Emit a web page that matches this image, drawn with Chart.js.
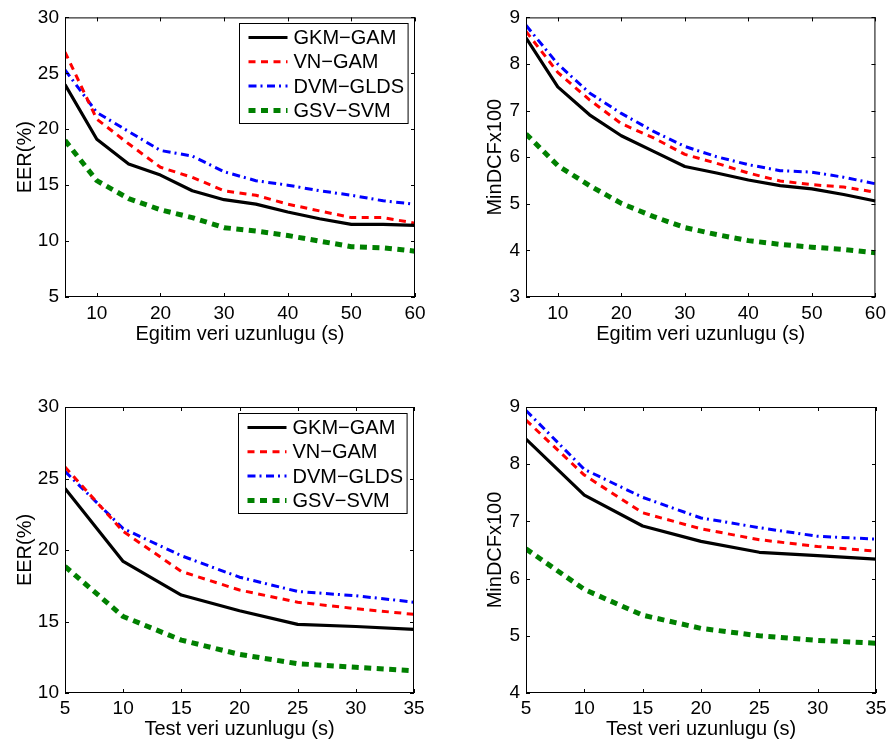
<!DOCTYPE html>
<html>
<head>
<meta charset="utf-8">
<script src="https://cdn.jsdelivr.net/npm/chart.js@4.4.0/dist/chart.umd.min.js"></script>
<style>
  body { margin: 0; background: #fff; }
  #fig { position: relative; width: 891px; height: 747px; }
  canvas { position: absolute; }
</style>
</head>
<body>
<div id="fig">
  <canvas id="c1" width="445" height="360" style="left:0;top:0"></canvas>
  <canvas id="c2" width="446" height="360" style="left:445px;top:0"></canvas>
  <canvas id="c3" width="445" height="387" style="left:0;top:360px"></canvas>
  <canvas id="c4" width="446" height="387" style="left:445px;top:360px"></canvas>
</div>
<script>
//---------------------Data-----------------------------
const methods = ["GKM−GAM", "VN−GAM", "DVM−GLDS", "GSV−SVM"];

const trainLen = [5, 10, 15, 20, 25, 30, 35, 40, 45, 50, 55, 60];
const testLen = [5, 10, 15, 20, 25, 30, 35];

// EER(%) vs training length
const eerTrainGKM = [24.0, 19.1, 16.9, 15.9, 14.5, 13.7, 13.3, 12.6, 12.0, 11.5, 11.5, 11.4];
const eerTrainVN  = [26.9, 20.9, 18.7, 16.6, 15.7, 14.5, 14.1, 13.3, 12.7, 12.1, 12.1, 11.6];
const eerTrainDVM = [25.3, 21.5, 19.8, 18.1, 17.6, 16.2, 15.4, 15.0, 14.5, 14.1, 13.6, 13.3];
const eerTrainGSV = [19.0, 15.4, 13.8, 12.8, 12.1, 11.2, 10.9, 10.5, 10.0, 9.5, 9.4, 9.1];

// MinDCFx100 vs training length
const dcfTrainGKM = [8.56, 7.51, 6.91, 6.46, 6.13, 5.80, 5.66, 5.51, 5.39, 5.32, 5.20, 5.06];
const dcfTrainVN  = [8.70, 7.82, 7.23, 6.72, 6.42, 6.06, 5.87, 5.66, 5.49, 5.41, 5.36, 5.25];
const dcfTrainDVM = [8.83, 8.00, 7.38, 6.94, 6.56, 6.23, 6.01, 5.84, 5.71, 5.68, 5.57, 5.43];
const dcfTrainGSV = [6.50, 5.82, 5.39, 5.01, 4.73, 4.49, 4.34, 4.21, 4.13, 4.07, 4.02, 3.95];

// EER(%) vs test length
const eerTestGKM = [24.3, 19.2, 16.85, 15.75, 14.8, 14.65, 14.45];
const eerTestVN  = [25.8, 21.3, 18.5, 17.2, 16.35, 15.9, 15.5];
const eerTestDVM = [25.5, 21.5, 19.6, 18.1, 17.1, 16.8, 16.35];
const eerTestGSV = [18.85, 15.35, 13.7, 12.7, 12.05, 11.8, 11.55];

// MinDCFx100 vs test length
const dcfTestGKM = [8.44, 7.46, 6.92, 6.65, 6.46, 6.40, 6.34];
const dcfTestVN  = [8.77, 7.81, 7.15, 6.87, 6.68, 6.56, 6.48];
const dcfTestDVM = [8.94, 7.91, 7.42, 7.06, 6.89, 6.74, 6.69];
const dcfTestGSV = [6.52, 5.81, 5.36, 5.13, 5.00, 4.92, 4.87];

// tick labels
const trainTicks = [10, 20, 30, 40, 50, 60];
const testTicks = [5, 10, 15, 20, 25, 30, 35];
const eerTrainTicks = [5, 10, 15, 20, 25, 30];
const eerTestTicks = [10, 15, 20, 25, 30];
const dcfTrainTicks = [3, 4, 5, 6, 7, 8, 9];
const dcfTestTicks = [4, 5, 6, 7, 8, 9];

//---------------------Styles-----------------------------
const FONT = '"Liberation Sans", Arial, Helvetica, sans-serif';
const lineStyles = [
  { color: "#000000", width: 3.2, dash: [] },
  { color: "#ff0000", width: 3, dash: [7, 5.5] },
  { color: "#0000ff", width: 3, dash: [8, 4, 2, 4.5] },
  { color: "#008000", width: 5, dash: [7, 5.5] },
];

// box around the axes, inward ticks, legend inside the axes
const matlabAxes = {
  id: "matlabAxes",
  afterDraw(chart, args, opts) {
    const { ctx, chartArea: a, scales } = chart;
    const x = scales.x, y = scales.y;
    ctx.save();
    ctx.strokeStyle = "#000";
    ctx.lineWidth = 1;
    ctx.setLineDash([]);
    ctx.beginPath();
    x.ticks.forEach((t) => {
      const px = Math.round(x.getPixelForValue(t.value)) + 0.5;
      ctx.moveTo(px, a.bottom); ctx.lineTo(px, a.bottom - 4);
      ctx.moveTo(px, a.top); ctx.lineTo(px, a.top + 4);
    });
    y.ticks.forEach((t) => {
      const py = Math.round(y.getPixelForValue(t.value)) + 0.5;
      ctx.moveTo(a.left, py); ctx.lineTo(a.left + 4, py);
      ctx.moveTo(a.right, py); ctx.lineTo(a.right - 4, py);
    });
    ctx.stroke();
    ctx.strokeRect(a.left + 0.5, a.top + 0.5, a.width - 1, a.height - 1);

    if (opts.legend) {
      const ds = chart.data.datasets;
      ctx.font = "20px " + FONT;
      const tw = Math.max(...ds.map((d) => ctx.measureText(d.label).width));
      const w = 9 + 39 + 6 + tw + 4;
      const h = 100;
      const bx = Math.round(a.right - 7 - w) + 0.5;
      const by = Math.round(a.top + 6) + 0.5;
      ctx.fillStyle = "#fff";
      ctx.fillRect(bx, by, w, h);
      ctx.strokeStyle = "#000";
      ctx.lineWidth = 1;
      ctx.strokeRect(bx, by, w, h);
      ds.forEach((d, i) => {
        const cy = by + 14 + i * 24.3;
        ctx.beginPath();
        ctx.strokeStyle = d.borderColor;
        ctx.lineWidth = d.borderWidth;
        ctx.setLineDash(d.borderDash);
        ctx.moveTo(bx + 9, cy);
        ctx.lineTo(bx + 48, cy);
        ctx.stroke();
        ctx.setLineDash([]);
        ctx.fillStyle = "#000";
        ctx.textBaseline = "middle";
        ctx.textAlign = "left";
        ctx.fillText(d.label, bx + 54, cy + 1);
      });
    }
    ctx.restore();
  },
};

function makeChart(id, xs, series, xTicks, yTicks, xTitle, yTitle, area, legend) {
  const el = document.getElementById(id);
  const W = el.width, H = el.height;
  const tickFont = { family: FONT, size: 19 };
  const titleFont = { family: FONT, size: 20 };
  return new Chart(el, {
    type: "line",
    data: {
      datasets: series.map((ys, i) => ({
        label: methods[i],
        data: xs.map((x, j) => ({ x: x, y: ys[j] })),
        borderColor: lineStyles[i].color,
        borderWidth: lineStyles[i].width,
        borderDash: lineStyles[i].dash,
        borderCapStyle: "butt",
        borderJoinStyle: "round",
        pointRadius: 0,
        tension: 0,
        fill: false,
      })),
    },
    options: {
      responsive: false,
      animation: false,
      devicePixelRatio: 1,
      layout: { padding: { left: 0, top: area.top, right: W - area.right, bottom: 0 } },
      plugins: {
        legend: { display: false },
        tooltip: { enabled: false },
        matlabAxes: { legend: legend },
      },
      scales: {
        x: {
          type: "linear",
          min: xs[0],
          max: xs[xs.length - 1],
          afterBuildTicks: (s) => { s.ticks = xTicks.map((v) => ({ value: v })); },
          afterFit: (s) => { s.height = H - area.bottom; },
          grid: { display: false, drawTicks: false },
          border: { display: false },
          ticks: { autoSkip: false, maxRotation: 0, padding: area.xtp, color: "#000", font: tickFont },
          title: { display: true, text: xTitle, color: "#000", font: titleFont, padding: { top: 0, bottom: area.xtb } },
        },
        y: {
          type: "linear",
          min: yTicks[0],
          max: yTicks[yTicks.length - 1],
          afterBuildTicks: (s) => { s.ticks = yTicks.map((v) => ({ value: v })); },
          afterFit: (s) => { s.width = area.left; },
          grid: { display: false, drawTicks: false },
          border: { display: false },
          ticks: { padding: 6, color: "#000", font: tickFont },
          title: { display: true, text: yTitle, color: "#000", font: titleFont, padding: { top: area.ytp, bottom: 0 } },
        },
      },
    },
    plugins: [matlabAxes],
  });
}

makeChart("c1", trainLen, [eerTrainGKM, eerTrainVN, eerTrainDVM, eerTrainGSV],
  trainTicks, eerTrainTicks, "Egitim veri uzunlugu (s)", "EER(%)",
  { left: 65, top: 13, right: 415, bottom: 297, xtp: 5, xtb: 13.5, ytp: 13 }, true);

makeChart("c2", trainLen, [dcfTrainGKM, dcfTrainVN, dcfTrainDVM, dcfTrainGSV],
  trainTicks, dcfTrainTicks, "Egitim veri uzunlugu (s)", "MinDCFx100",
  { left: 81, top: 13, right: 431, bottom: 297, xtp: 5, xtb: 13.5, ytp: 38 }, false);

makeChart("c3", testLen, [eerTestGKM, eerTestVN, eerTestDVM, eerTestGSV],
  testTicks, eerTestTicks, "Test veri uzunlugu (s)", "EER(%)",
  { left: 65, top: 47, right: 414, bottom: 333, xtp: 4, xtb: 6, ytp: 13 }, true);

makeChart("c4", testLen, [dcfTestGKM, dcfTestVN, dcfTestDVM, dcfTestGSV],
  testTicks, dcfTestTicks, "Test veri uzunlugu (s)", "MinDCFx100",
  { left: 81, top: 47, right: 431, bottom: 333, xtp: 4, xtb: 6, ytp: 38 }, false);
</script>
</body>
</html>
